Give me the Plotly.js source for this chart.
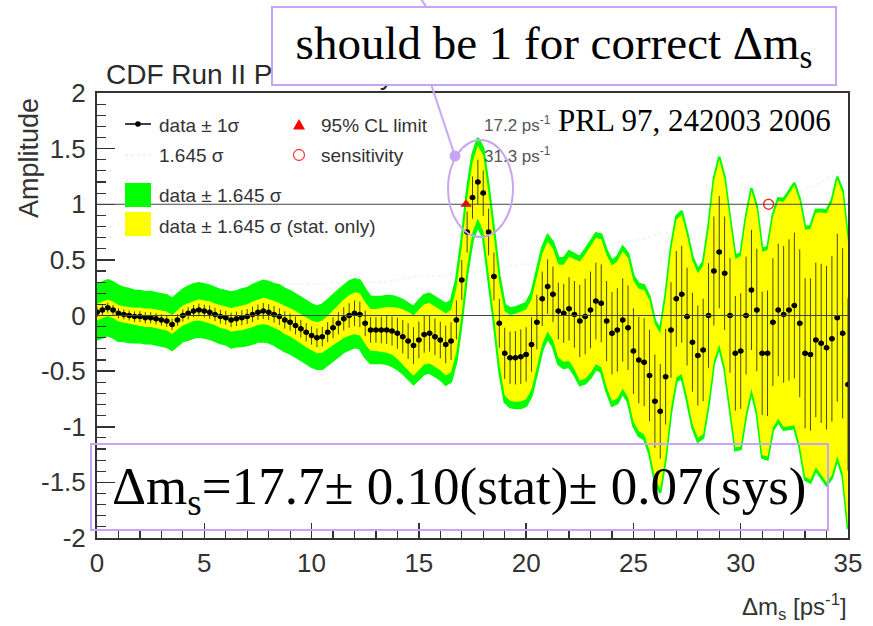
<!DOCTYPE html>
<html>
<head>
<meta charset="utf-8">
<script src="https://cdn.plot.ly/plotly-3.0.1.min.js"></script>
<style>html,body{margin:0;padding:0;background:#fff;}#chart{width:873px;height:626px;}</style>
</head>
<body>
<div id="chart"></div>
<script>
// ---------------- DATA ----------------
// Δm_s scan points [ps^-1]
const dms = [0,0.25,0.5,0.75,1,1.25,1.5,1.75,2,
2.25,2.5,2.75,3,3.25,3.5,3.75,4,
4.25,4.5,4.75,5,5.25,5.5,5.75,6,
6.25,6.5,6.75,7,7.25,7.5,7.75,8,
8.25,8.5,8.75,9,9.25,9.5,9.75,10,
10.25,10.5,10.75,11,11.25,11.5,11.75,12,
12.25,12.5,12.75,13,13.25,13.5,13.75,14,
14.25,14.5,14.75,15,15.25,15.5,15.75,16,
16.25,16.5,16.75,17,17.25,17.5,17.75,18,
18.25,18.5,18.75,19,19.25,19.5,19.75,20,
20.25,20.5,20.75,21,21.25,21.5,21.75,22,
22.25,22.5,22.75,23,23.25,23.5,23.75,24,
24.25,24.5,24.75,25,25.25,25.5,25.75,26,
26.25,26.5,26.75,27,27.25,27.5,27.75,28,
28.25,28.5,28.75,29,29.25,29.5,29.75,30,
30.25,30.5,30.75,31,31.25,31.5,31.75,32,
32.25,32.5,32.75,33,33.25,33.5,33.75,34,
34.25,34.5,34.75,35];

// fitted amplitude
const amplitude = [0.03,0.05,0.07,0.05,0.02,0.01,0.00,-0.01,-0.01,
-0.02,-0.02,-0.03,-0.04,-0.05,-0.08,-0.04,0.00,
0.02,0.04,0.05,0.04,0.03,0.01,-0.01,-0.02,
-0.04,-0.03,-0.02,-0.01,0.01,0.03,0.04,0.03,
0.01,-0.01,-0.04,-0.06,-0.09,-0.12,-0.15,-0.18,
-0.20,-0.19,-0.15,-0.11,-0.07,-0.03,0.00,0.02,
0.01,-0.07,-0.13,-0.13,-0.13,-0.13,-0.14,-0.16,
-0.19,-0.23,-0.27,-0.22,-0.17,-0.16,-0.19,-0.22,
-0.26,-0.23,-0.04,0.32,0.75,1.06,1.20,1.10,
0.75,0.35,-0.07,-0.34,-0.38,-0.38,-0.37,-0.35,
-0.26,-0.06,0.15,0.26,0.19,0.04,0.02,0.06,
0.01,-0.05,-0.01,0.05,0.13,0.11,-0.05,-0.16,
-0.13,-0.04,-0.11,-0.32,-0.40,-0.42,-0.54,-0.77,
-0.86,-0.55,-0.13,0.15,0.19,-0.01,-0.24,-0.36,
-0.31,0.00,0.40,0.57,0.38,0.00,-0.34,-0.32,
0.00,0.23,0.05,-0.34,-0.34,-0.06,0.05,0.01,
0.05,0.09,-0.07,-0.34,-0.35,-0.22,-0.25,-0.29,
-0.21,-0.02,-0.16,-0.62];

// total uncertainty (stat + syst), 1 sigma
const sigmaTotal = [0.15,0.15,0.15,0.15,0.15,0.145,0.145,0.14,0.14,
0.14,0.14,0.14,0.14,0.14,0.14,0.14,0.14,
0.145,0.145,0.145,0.145,0.145,0.145,0.145,0.145,
0.15,0.15,0.155,0.155,0.16,0.16,0.165,0.165,
0.165,0.17,0.17,0.17,0.17,0.17,0.17,0.17,
0.17,0.175,0.175,0.18,0.18,0.18,0.185,0.185,
0.185,0.185,0.18,0.18,0.18,0.185,0.19,0.195,
0.2,0.205,0.21,0.215,0.215,0.215,0.215,0.215,
0.22,0.22,0.225,0.225,0.23,0.235,0.24,0.245,
0.25,0.255,0.26,0.265,0.27,0.275,0.28,0.28,
0.28,0.28,0.28,0.28,0.285,0.29,0.3,0.315,
0.33,0.35,0.365,0.37,0.37,0.375,0.385,0.395,
0.4,0.4,0.405,0.41,0.415,0.42,0.43,0.44,
0.445,0.45,0.45,0.45,0.455,0.46,0.465,0.47,
0.48,0.49,0.505,0.52,0.525,0.53,0.53,0.535,
0.545,0.555,0.565,0.57,0.58,0.59,0.61,0.63,
0.65,0.67,0.68,0.69,0.7,0.71,0.73,0.75,
0.76,0.77,0.78,0.79];

// statistical uncertainty only, 1 sigma
const sigmaStat = [0.045,0.045,0.045,0.045,0.045,0.045,0.045,0.048,0.05,
0.05,0.05,0.05,0.05,0.052,0.052,0.052,0.055,
0.055,0.055,0.058,0.058,0.06,0.06,0.062,0.062,
0.065,0.065,0.068,0.068,0.07,0.07,0.072,0.072,
0.075,0.075,0.078,0.078,0.08,0.08,0.082,0.082,
0.085,0.088,0.09,0.095,0.1,0.105,0.11,0.115,
0.115,0.115,0.115,0.115,0.12,0.125,0.13,0.14,
0.15,0.16,0.165,0.165,0.165,0.165,0.165,0.165,
0.17,0.17,0.175,0.18,0.185,0.19,0.2,0.205,
0.21,0.215,0.22,0.23,0.235,0.24,0.245,0.245,
0.245,0.245,0.245,0.245,0.25,0.255,0.265,0.285,
0.3,0.325,0.34,0.345,0.345,0.35,0.36,0.37,
0.375,0.375,0.38,0.385,0.39,0.395,0.41,0.42,
0.425,0.43,0.43,0.43,0.435,0.44,0.445,0.45,
0.46,0.47,0.49,0.505,0.51,0.515,0.515,0.52,
0.53,0.54,0.55,0.555,0.565,0.575,0.595,0.615,
0.635,0.655,0.665,0.675,0.685,0.695,0.715,0.735,
0.745,0.755,0.765,0.775];

const clFactor = 1.645;          // 95% CL one-sided factor
const halfBin = 0.125;           // horizontal half-width of each scan point
const limitX = [17.2], limitY = [1];   // 95% CL limit
const sensX = [31.3],  sensY = [1];    // sensitivity
const refLevels = [0, 1];               // amplitude reference lines

const xTickVals = [0,5,10,15,20,25,30,35];
const yTickVals = [-2,-1.5,-1,-0.5,0,0.5,1,1.5,2];
const yTickText = ['-2','-1.5','-1','-0.5','0','0.5','1','1.5','2'];

// ---------------- BUILD ----------------
const SANS = 'Liberation Sans, Arial, Helvetica, sans-serif';
const SERIF = 'Liberation Serif, Times New Roman, serif';
const LAV = '#c9a4f2';
const L = 97, R = 25, T = 93, B = 88, W = 873, H = 626;
const PW = W - L - R, PH = H - T - B;
const PX = p => (p - L) / PW;
const PY = p => (H - B - p) / PH;

function band(sig) {
  const up = amplitude.map((a, i) => a + clFactor * sig[i]);
  const lo = amplitude.map((a, i) => a - clFactor * sig[i]);
  return { x: dms.concat(dms.slice().reverse()), y: up.concat(lo.reverse()) };
}
const gB = band(sigmaTotal), yB = band(sigmaStat);

const traces = [
  { x: dms, y: sigmaTotal.map(s => clFactor * s), mode: 'lines',
    line: { color: 'rgba(140,220,240,0.35)', width: 1, dash: 'dot' }, hoverinfo: 'skip' },
  { x: gB.x, y: gB.y, mode: 'lines', fill: 'toself', fillcolor: '#00ff00',
    line: { width: 2.5, color: '#00ff00' }, hoverinfo: 'skip' },
  { x: yB.x, y: yB.y, mode: 'lines', fill: 'toself', fillcolor: '#ffff00',
    line: { width: 0, color: '#ffff00' }, hoverinfo: 'skip' },
  { x: dms, y: amplitude, mode: 'markers',
    marker: { color: '#000', size: 5.5 },
    error_y: { type: 'data', array: sigmaStat, visible: true, color: 'rgba(0,0,0,0.72)', thickness: 1, width: 0 },
    error_x: { type: 'constant', value: halfBin, visible: true, color: '#000', thickness: 2.5, width: 0 } },
  { x: limitX, y: limitY, mode: 'markers',
    marker: { symbol: 'triangle-up', color: '#ff0000', size: 10 } },
  { x: sensX, y: sensY, mode: 'markers',
    marker: { symbol: 'circle-open', color: '#ff3030', size: 10, line: { width: 1.5 } } }
];
traces.forEach(t => { t.showlegend = false; t.type = 'scatter'; });

const shapes = [];
refLevels.forEach(v => shapes.push({ type: 'line', xref: 'paper', yref: 'y', x0: 0, x1: 1, y0: v, y1: v,
  line: { color: '#444', width: 1 }, layer: 'above' }));

function pline(x0, y0, x1, y1, color, width, dash) {
  shapes.push({ type: 'line', xref: 'paper', yref: 'paper', x0: PX(x0), y0: PY(y0), x1: PX(x1), y1: PY(y1),
    line: { color: color, width: width, dash: dash || 'solid' }, layer: 'above' });
}
function prect(x0, y0, x1, y1, fill, lineColor, lw) {
  shapes.push({ type: 'rect', xref: 'paper', yref: 'paper', x0: PX(x0), y0: PY(y0), x1: PX(x1), y1: PY(y1),
    fillcolor: fill, line: { color: lineColor, width: lw }, layer: 'above' });
}
function pcirc(cx, cy, rx, ry, fill, lineColor, lw) {
  shapes.push({ type: 'circle', xref: 'paper', yref: 'paper', x0: PX(cx - rx), y0: PY(cy + ry), x1: PX(cx + rx), y1: PY(cy - ry),
    fillcolor: fill, line: { color: lineColor, width: lw }, layer: 'above' });
}
// legend symbols
pline(125, 124, 151, 124, '#000', 1.5);
pcirc(138, 124, 2.8, 2.8, '#000', '#000', 0);
shapes.push({ type: 'path', xref: 'paper', yref: 'paper', layer: 'above',
  path: `M ${PX(293)} ${PY(129.5)} L ${PX(305)} ${PY(129.5)} L ${PX(299)} ${PY(119)} Z`,
  fillcolor: '#ff0000', line: { width: 0 } });
pline(125, 155, 151, 155, 'rgba(140,220,240,0.45)', 1, 'dot');
pcirc(299, 155, 5.5, 5.5, 'rgba(0,0,0,0)', '#ff4040', 1.3);
prect(125, 183, 151, 207, '#00ff00', '#00ff00', 0);
prect(125, 212, 151, 236, '#ffff00', '#ffff00', 0);
// callout
pline(421, -1, 427, 8, LAV, 2);
pline(428, 75, 455, 156, LAV, 2);
pcirc(455, 156, 5.5, 5.5, LAV, LAV, 0);
pcirc(480.5, 188.5, 32.5, 48.5, 'rgba(0,0,0,0)', LAV, 2);
// result box (no fill)
prect(91, 444, 828, 530, 'rgba(0,0,0,0)', LAV, 2);

const ann = [];
function txt(text, px, py, size, family, color, xanchor, extra) {
  ann.push(Object.assign({ text: text, xref: 'paper', yref: 'paper', x: PX(px), y: PY(py),
    xanchor: xanchor || 'left', yanchor: 'middle', showarrow: false,
    font: { family: family, size: size, color: color } }, extra || {}));
}
txt('CDF Run II Preliminary', 104, 74, 28, SANS, '#2a2a2a');
ann.push({ text: 'should be 1 for correct Δm<sub>s</sub>', xref: 'paper', yref: 'paper',
  x: PX(271), y: PY(6), xanchor: 'left', yanchor: 'top', showarrow: false,
  width: 562, height: 76, bgcolor: '#ffffff', bordercolor: LAV, borderwidth: 2, borderpad: 0,
  font: { family: SERIF, size: 47, color: '#000' } });
txt('PRL 97, 242003 2006', 556, 121, 31, SERIF, '#000');
txt('Δm<sub>s</sub>=17.7± 0.10(stat)± 0.07(sys)', 110, 490, 53, SERIF, '#000');
// legend texts
txt('data ± 1σ', 157, 125, 19, SANS, '#333');
txt('95% CL limit', 319, 125, 19, SANS, '#333');
txt('1.645 σ', 157, 155, 19, SANS, '#333');
txt('sensitivity', 319, 155, 19, SANS, '#333');
txt('data ± 1.645 σ', 157, 195, 19, SANS, '#333');
txt('data ± 1.645 σ (stat. only)', 157, 226, 19, SANS, '#333');
txt('17.2 ps<sup>-1</sup>', 482, 124, 17, SANS, '#555');
txt('31.3 ps<sup>-1</sup>', 482, 155, 17, SANS, '#555');
// axis titles
txt('Δm<sub>s</sub> [ps<sup>-1</sup>]', 849, 607, 24, SANS, '#333', 'right');
txt('Amplitude', 29, 158, 27, SANS, '#333', 'center', { textangle: -90 });

const layout = {
  width: W, height: H,
  margin: { l: L, r: R, t: T, b: B, pad: 0 },
  paper_bgcolor: '#fff', plot_bgcolor: '#fff',
  showlegend: false,
  xaxis: {
    range: [0, 35], tickvals: xTickVals, showgrid: false, zeroline: false,
    ticks: 'inside', ticklen: 15, tickwidth: 1.5, tickcolor: '#333',
    minor: { dtick: 1, ticks: 'inside', ticklen: 7, tickwidth: 1.2, tickcolor: '#333' },
    showline: true, linecolor: '#333', linewidth: 2, mirror: true,
    tickfont: { family: SANS, size: 26, color: '#333' }, ticklabelstandoff: 1
  },
  yaxis: {
    range: [-2, 2], tickvals: yTickVals, ticktext: yTickText, showgrid: false, zeroline: false,
    ticks: 'inside', ticklen: 18, tickwidth: 1.5, tickcolor: '#333',
    minor: { dtick: 0.1, ticks: 'inside', ticklen: 9, tickwidth: 1.2, tickcolor: '#333' },
    showline: true, linecolor: '#333', linewidth: 2, mirror: true,
    tickfont: { family: SANS, size: 26, color: '#333' }, ticklabelstandoff: 4
  },
  shapes: shapes,
  annotations: ann
};

Plotly.newPlot('chart', traces, layout, { displayModeBar: false, staticPlot: true });
</script>
</body>
</html>
